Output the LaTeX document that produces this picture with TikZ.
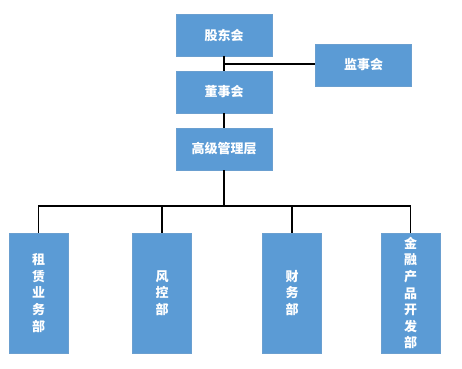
\documentclass[tikz,border=0pt]{standalone}
\usepackage{fontspec}
\newfontfamily\cjk{Noto Sans CJK SC}
\begin{document}
\begin{tikzpicture}[x=1pt,y=-1pt,
  box/.style={draw=boxedge,fill=boxfill,line width=0.8pt,text=white,inner sep=0pt,
    font=\cjk\bfseries\fontsize{13}{16.6}\selectfont,align=center},
  hbox/.style={box,minimum width=96pt,minimum height=42pt},
  vbox/.style={box,minimum width=59pt,minimum height=120pt},
  conn/.style={draw=black,line width=1.3pt}]
\definecolor{boxfill}{HTML}{5B9BD5}
\definecolor{boxedge}{HTML}{6A9FD0}
\useasboundingbox (0,0) rectangle (462,368);
\node[hbox] (gd) at (224,35) {股东会};
\node[hbox] (js) at (363.5,65) {监事会};
\node[hbox] (ds) at (224,92) {董事会};
\node[hbox] (gj) at (224,149) {高级管理层};
\node[vbox] (d1) at (38.5,293) {租\\赁\\业\\务\\部};
\node[vbox] (d2) at (162,293) {风\\控\\部};
\node[vbox] (d3) at (292,293) {财\\务\\部};
\node[vbox] (d4) at (410.5,293) {金\\融\\产\\品\\开\\发\\部};
\coordinate (bus) at (224,206);
\coordinate (mid) at (224,64);
\draw[conn] (gd.south) -- (ds.north);
\draw[conn] (mid) -- (js.west |- mid);
\draw[conn] (ds.south) -- (gj.south |- ds.south) -- (gj.north);
\draw[conn] (gj.south) -- (bus);
\draw[conn] (d1.north) -- (d1.north |- bus) -- (d4.north |- bus) -- (d4.north);
\draw[conn] (d2.north) -- (d2.north |- bus);
\draw[conn] (d3.north) -- (d3.north |- bus);
\end{tikzpicture}
\end{document}
